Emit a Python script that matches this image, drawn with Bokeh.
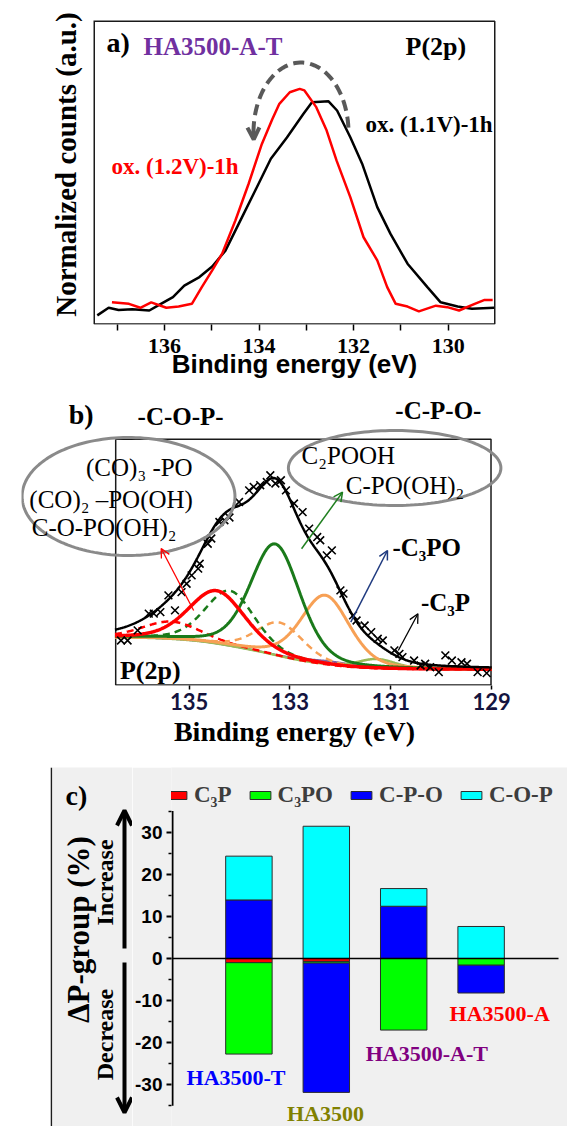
import numpy as np
from bokeh.plotting import figure
from bokeh.models import (Range1d, FixedTicker, Label, Arrow, OpenHead, PrintfTickFormatter,
                          Legend, LegendItem, ColumnDataSource, Spacer)
from bokeh.layouts import column, row
from bokeh.embed import file_html
from bokeh.resources import INLINE

SERIF = "Liberation Serif"
SANS = "Liberation Sans"

# ---------------- panel a data: P(2p) spectra of HA3500-A-T ----------------
a_ox11_ev = [137.42, 137.18, 136.97, 136.68, 136.32, 136.14, 135.82, 135.58, 135.26, 134.99,
             134.71, 134.43, 134.08, 133.75, 133.41, 133.06, 132.88, 132.53, 132.35, 132.07,
             131.82, 131.50, 131.22, 130.86, 130.44, 130.16, 129.80, 129.50, 129.03]
a_ox11_counts = [0.030, 0.055, 0.048, 0.050, 0.046, 0.062, 0.090, 0.128, 0.156, 0.191,
                 0.243, 0.331, 0.441, 0.545, 0.615, 0.693, 0.731, 0.734, 0.704, 0.616,
                 0.529, 0.386, 0.298, 0.200, 0.123, 0.073, 0.059, 0.052, 0.055]
a_ox12_ev = [137.11, 136.75, 136.51, 136.28, 135.96, 135.70, 135.42, 135.21, 134.99, 134.78,
             134.50, 134.22, 133.94, 133.72, 133.57, 133.35, 133.14, 133.04, 132.79, 132.57,
             132.36, 132.07, 131.79, 131.50, 131.29, 131.11, 130.86, 130.62, 130.26, 130.02,
             129.77, 129.44, 129.23, 129.06]
a_ox12_counts = [0.073, 0.068, 0.055, 0.073, 0.055, 0.059, 0.068, 0.123, 0.178, 0.233,
                 0.342, 0.463, 0.594, 0.675, 0.726, 0.764, 0.775, 0.770, 0.715, 0.638,
                 0.539, 0.419, 0.287, 0.211, 0.123, 0.068, 0.059, 0.043, 0.062, 0.057,
                 0.046, 0.068, 0.081, 0.081]
a_ticks = [136, 134, 132, 130]
a_minor_ticks = [137, 135, 133, 131]

# ---------------- panel b data: measured points and fitted components ----------------
b_meas_ev = [136.35, 136.22, 136.02, 135.80, 135.70, 135.57, 135.41, 135.28, 135.15, 135.05,
             134.95, 134.82, 134.79, 134.63, 134.56, 134.40, 134.30, 134.20, 134.01, 133.81,
             133.72, 133.59, 133.46, 133.39, 133.29, 133.18, 133.08, 132.92, 132.75, 132.62,
             132.46, 132.40, 132.27, 132.17, 132.00, 131.94, 131.75, 131.68, 131.52, 131.39,
             131.26, 131.16, 130.93, 130.83, 130.77, 130.54, 130.41, 130.32, 130.22, 130.05,
             129.92, 129.79, 129.60, 129.49, 129.28, 129.10]
b_meas_counts = [18.2, 18.2, 22.3, 29.1, 29.1, 29.7, 36.5, 30.4, 37.8, 41.2,
                 44.6, 47.3, 49.3, 57.4, 59.5, 66.2, 66.9, 68.0, 74.3, 79.0,
                 80.4, 81.1, 82.4, 85.1, 81.8, 83.1, 79.0, 73.7, 70.2, 63.5,
                 60.1, 58.8, 52.7, 54.7, 38.5, 37.2, 28.4, 26.3, 24.3, 21.6,
                 18.9, 18.2, 14.2, 12.8, 11.5, 10.1, 8.1, 8.8, 7.4, 5.4,
                 12.2, 10.1, 9.4, 8.8, 5.4, 5.0]
b_comp_names = ["minor", "C3P", "C3PO 2p1/2", "C-P-O 2p1/2", "C-O-P 2p1/2",
                "C3PO 2p3/2", "C-P-O 2p3/2", "C-O-P 2p3/2"]
b_comp_center = [132.2, 131.28, 133.20, 134.19, 135.35, 132.30, 133.29, 134.45]
b_comp_height = [1.5, 3.8, 13.6, 22.3, 7.0, 28.0, 45.0, 21.4]
b_comp_hwhm = [0.60, 0.45, 0.55, 0.58, 0.68, 0.57, 0.58, 0.66]
b_bg_high_be = 19.5
b_bg_low_be = 6.5
b_ticks = [135, 133, 131, 129]

# ---------------- panel c data: change of P-groups (%) ----------------
c_samples = ["HA3500-T", "HA3500", "HA3500-A-T", "HA3500-A"]
c_groups = ["C\u2083P", "C\u2083PO", "C-P-O", "C-O-P"]
c_C3P = [-1.0, -0.7, 0.0, 0.0]
c_C3PO = [-21.7, -0.4, -17.0, -1.6]
c_CPO = [13.9, -30.7, 12.4, -6.6]
c_COP = [10.4, 31.4, 4.2, 7.6]
c_ticks = [-30, -20, -10, 0, 10, 20, 30]
c_minor_ticks = [-35, -25, -15, -5, 5, 15, 25, 35]

# ---------------- styles ----------------
b_comp_colors = ["#8064a2", "#9bbb59", "#f7a055", "#1a7a1a", "#ff0000",
                 "#f7a055", "#1a7a1a", "#ff0000"]
b_comp_dash = ["solid", "solid", "7 5", "7 5", "7 5", "solid", "solid", "solid"]
b_comp_width = [2.0, 2.5, 2.5, 2.5, 2.5, 3.0, 3.0, 3.5]
c_colors = ["#ff0000", "#00ff00", "#0000ff", "#00ffff"]
c_label_colors = ["#0000ff", "#808000", "#800080", "#ff0000"]
GRAY_BG = "#f0f0f0"


def make_mapper(fl, fr, ft, fb, xr, yr):
    x0, x1 = xr
    y0, y1 = yr

    def fx(px):
        return x0 + (px - fl) / (fr - fl) * (x1 - x0)

    def fy(py):
        return y0 + (fb - py) / (fb - ft) * (y1 - y0)
    return fx, fy


def add_text(p, fx, fy, px, py, text, size, color="black", font=SERIF, style="bold",
             align="left", angle=0.0):
    p.add_layout(Label(x=fx(px), y=fy(py), text=text, text_font=font, text_font_style=style,
                       text_font_size=f"{size}px", text_color=color, text_align=align,
                       text_baseline="middle", angle=angle))


def add_arrow(p, fx, fy, p0, p1, color, width, size, head_width=None):
    head = OpenHead(size=size, line_color=color, line_width=head_width or width)
    p.add_layout(Arrow(end=head, x_start=fx(p0[0]), y_start=fy(p0[1]),
                       x_end=fx(p1[0]), y_end=fy(p1[1]), line_color=color, line_width=width))


def add_polyline(p, fx, fy, pts, color, width, dash="solid"):
    p.line([fx(a) for a, _ in pts], [fy(b) for _, b in pts], line_color=color,
           line_width=width, line_dash=dash)


def add_ellipse(p, fx, fy, cx, cy, rx, ry, color, width, n=160):
    t = np.linspace(0, 2 * np.pi, n)
    add_polyline(p, fx, fy, [(cx + rx * np.cos(a), cy - ry * np.sin(a)) for a in t], color, width)


def base_fig(width, height, xr, yr, ml, mr, mt, mb, **kw):
    p = figure(width=width, height=height, x_range=Range1d(*xr), y_range=Range1d(*yr),
               output_backend="svg", toolbar_location=None, title_location=None,
               min_border_left=ml, min_border_right=mr, min_border_top=mt, min_border_bottom=mb,
               **kw)
    p.xgrid.visible = False
    p.ygrid.visible = False
    p.outline_line_color = None
    return p


# ======================= panel a =======================
# canvas page y 0..388 ; frame: page x 21..567, y 0..324 ; visible box 93..495 x 20..324
XA, YA = (139.0225, 127.4775), (0.0, 324 / 304)
pa = base_fig(567, 388, XA, YA, 21, 0, 0, 64, y_axis_location=None)
fxa, fya = make_mapper(21, 567, 0, 324, XA, YA)
ax = pa.xaxis[0]
ax.ticker = FixedTicker(ticks=a_ticks, minor_ticks=a_minor_ticks)
ax.axis_line_color = None
ax.major_tick_in = 0
ax.major_tick_out = 6
ax.minor_tick_in = 0
ax.minor_tick_out = 6
ax.major_tick_line_width = 1.5
ax.minor_tick_line_width = 1.5
ax.major_label_text_font = SERIF
ax.major_label_text_font_style = "bold"
ax.major_label_text_font_size = "22px"
ax.major_label_text_color = "black"
ax.major_label_standoff = 8
ax.axis_label = "Binding energy (eV)"
ax.axis_label_text_font = SANS
ax.axis_label_text_font_style = "bold"
ax.axis_label_text_font_size = "26px"
ax.axis_label_text_color = "black"
ax.axis_label_standoff = -7

add_polyline(pa, fxa, fya, [(93, 20.75), (494.25, 20.75), (494.25, 323.4), (93.75, 323.4),
                            (93.75, 20.75)], "#1a1a1a", 1.5)
pa.line(a_ox11_ev, a_ox11_counts, line_color="black", line_width=2.5)
pa.line(a_ox12_ev, a_ox12_counts, line_color="#ff0000", line_width=2.5)

# dashed curved arrow (shift to higher binding energy)
t = np.linspace(0.07, np.pi + 0.02, 60)
add_polyline(pa, fxa, fya, [(300.5 + 47.5 * np.cos(a), 132 - 70 * np.sin(a)) for a in t],
             "#595959", 4, "11 6")
add_arrow(pa, fxa, fya, (300.5 + 47.5 * np.cos(np.pi - 0.02), 132 - 70 * np.sin(np.pi - 0.02)),
          (300.5 + 47.5 * np.cos(np.pi + 0.1), 132 - 70 * np.sin(np.pi + 0.1)),
          "#595959", 4, 12)

add_text(pa, fxa, fya, 106, 42, "a)", 28)
add_text(pa, fxa, fya, 143, 46, "HA3500-A-T", 25, color="#7030a0")
add_text(pa, fxa, fya, 405, 46, "P(2p)", 26)
add_text(pa, fxa, fya, 365, 124, "ox. (1.1V)-1h", 23)
add_text(pa, fxa, fya, 111, 165.5, "ox. (1.2V)-1h", 23, color="#ff0000")
add_text(pa, fxa, fya, 65, 164, "Normalized counts (a.u.)", 29, align="center", angle=np.pi / 2)

# ======================= panel b =======================
# canvas page y 388..757 ; frame: page x 12..567, y 388..685 ; visible box 107..490 x 438..685
XB, YB = (138.323, 127.498), (0.0, (685 - 388) / 2.47)
pb = base_fig(567, 369, XB, YB, 12, 0, 0, 72, y_axis_location=None)
fxb, fyb = make_mapper(12, 567, 388, 685, XB, YB)
bx = pb.xaxis[0]
bx.ticker = FixedTicker(ticks=b_ticks)
bx.axis_line_color = None
bx.major_tick_in = 0
bx.major_tick_out = 4
bx.minor_tick_out = 0
bx.major_tick_line_width = 1.5
bx.major_label_text_font = "Lato"
bx.major_label_text_font_style = "bold"
bx.major_label_text_font_size = "22px"
bx.major_label_text_color = "#141440"
bx.major_label_standoff = 3
bx.axis_label = "Binding energy (eV)"
bx.axis_label_text_font = SERIF
bx.axis_label_text_font_style = "bold"
bx.axis_label_text_font_size = "28px"
bx.axis_label_text_color = "black"
bx.axis_label_standoff = 3

add_polyline(pb, fxb, fyb, [(107.75, 438.75), (489.25, 438.75), (489.25, 684.4), (107.75, 684.4),
                            (107.75, 438.75)], "#1a1a1a", 1.5)

grid = np.linspace(136.47, 129.0, 600)


def pseudo_voigt(x, c, h, w, eta=0.3):
    d = (x - c) / w
    return h * ((1 - eta) * np.exp(-np.log(2) * d ** 2) + eta / (1 + d ** 2))


comps = [pseudo_voigt(grid, c, h, w) for c, h, w in zip(b_comp_center, b_comp_height, b_comp_hwhm)]
total = np.sum(comps, axis=0)
area_low_side = np.cumsum(total[::-1])[::-1]
shirley = b_bg_low_be + (b_bg_high_be - b_bg_low_be) * area_low_side / area_low_side[0]

for comp, col, dash, lw in zip(comps, b_comp_colors, b_comp_dash, b_comp_width):
    pb.line(grid, shirley + comp, line_color=col, line_width=lw, line_dash=dash)
pb.line(grid, shirley + total, line_color="black", line_width=2.5)
pb.scatter(b_meas_ev, b_meas_counts, marker="x", size=11, line_color="black", line_width=1.6)

add_ellipse(pb, fxb, fyb, 120.8, 496, 108.2, 59, "#8a8a8a", 3)
add_ellipse(pb, fxb, fyb, 391.3, 467.5, 108, 37.5, "#8a8a8a", 3)
add_arrow(pb, fxb, fyb, (187, 610), (154, 548), "#ff0000", 1.3, 9)
add_arrow(pb, fxb, fyb, (296.7, 548.3), (338.3, 491.7), "#1f7f1f", 1.5, 9)
add_arrow(pb, fxb, fyb, (346.7, 621.7), (384, 550), "#1f3a7f", 1.5, 9)
add_arrow(pb, fxb, fyb, (395, 650), (415, 613.3), "black", 1.3, 9)

add_text(pb, fxb, fyb, 60, 414, "b)", 28)
add_text(pb, fxb, fyb, 130, 416, "-C-O-P-", 25)
add_text(pb, fxb, fyb, 392, 410, "-C-P-O-", 25)
add_text(pb, fxb, fyb, 77.6, 467, "(CO)\u2083 -PO", 25, style="normal")
add_text(pb, fxb, fyb, 20, 499, "(CO)\u2082 \u2013PO(OH)", 25, style="normal")
add_text(pb, fxb, fyb, 22.4, 527, "C-O-PO(OH)\u2082", 25, style="normal")
add_text(pb, fxb, fyb, 296.7, 455, "C\u2082POOH", 25, style="normal")
add_text(pb, fxb, fyb, 341.7, 485, "C-PO(OH)\u2082", 25, style="normal")
add_text(pb, fxb, fyb, 389, 547, "-C\u2083PO", 25)
add_text(pb, fxb, fyb, 418, 602, "-C\u2083P", 25)
add_text(pb, fxb, fyb, 112, 670, "P(2p)", 26)

# ======================= panel c =======================
# top strip (white) carrying the top edge of the gray box: page x 50..567, y 757..767
XS, YS = (50, 567), (767, 757)
pcs = base_fig(517, 10, XS, YS, 0, 0, 0, 0, x_axis_location=None, y_axis_location=None)
pcs.line([50, 567], [766.3, 766.3], line_color="#1e1e1e", line_width=1.6)

# left strip with the axis title: page x 50..132, y 767..1126 (coordinates are page pixels)
XL, YL = (50, 132), (1126, 767)
pcl = base_fig(82, 359, XL, YL, 0, 0, 0, 0, x_axis_location=None, y_axis_location=None)
pcl.background_fill_color = GRAY_BG
pcl.border_fill_color = GRAY_BG
pcl.line([50.8, 50.8], [767, 1126], line_color="#1e1e1e", line_width=1.6)
ident = (lambda v: v)
add_text(pcl, ident, ident, 65, 795, "c)", 28)
add_text(pcl, ident, ident, 77.6, 929, "\u0394P-group (%)", 31, align="center", angle=np.pi / 2)
add_text(pcl, ident, ident, 104.7, 882, "Increase", 24, align="center", angle=np.pi / 2)
add_text(pcl, ident, ident, 104.7, 1034, "Decrease", 24, align="center", angle=np.pi / 2)
add_arrow(pcl, ident, ident, (124, 948), (124, 810), "black", 4, 15)
add_arrow(pcl, ident, ident, (124, 962), (124, 1112), "black", 4, 15)

# main bar chart: frame page x 170..567, y 767..1126
XC, YC = (0.0, 5.116), (-39.9, 45.35)
pc = base_fig(435, 359, XC, YC, 38, 0, 0, 0, x_axis_location=None)
pc.background_fill_color = GRAY_BG
pc.border_fill_color = GRAY_BG
fxc, fyc = make_mapper(170, 567, 767, 1126, XC, YC)
cy = pc.yaxis[0]
cy.ticker = FixedTicker(ticks=c_ticks, minor_ticks=c_minor_ticks)
cy.formatter = PrintfTickFormatter(format="%d")
cy.axis_line_color = None
cy.major_tick_in = 0
cy.major_tick_out = 5
cy.minor_tick_in = 0
cy.minor_tick_out = 3
cy.major_tick_line_width = 2
cy.minor_tick_line_width = 1.5
cy.major_label_text_font = SANS
cy.major_label_text_font_style = "bold"
cy.major_label_text_font_size = "19px"
cy.major_label_text_color = "black"
cy.major_label_standoff = 4

xs = list(range(1, len(c_samples) + 1))
pos_base = [0.0] * len(c_samples)
neg_base = [0.0] * len(c_samples)
renderers = []
for vals, col in zip([c_C3P, c_C3PO, c_CPO, c_COP], c_colors):
    tops, bottoms = [], []
    for i, v in enumerate(vals):
        if v >= 0:
            bottoms.append(pos_base[i])
            tops.append(pos_base[i] + v)
            pos_base[i] += v
        else:
            tops.append(neg_base[i])
            bottoms.append(neg_base[i] + v)
            neg_base[i] += v
    src = ColumnDataSource(dict(x=xs, top=tops, bottom=bottoms))
    r = pc.vbar(x="x", top="top", bottom="bottom", width=0.6, source=src,
                fill_color=col, line_color="#2b2b2b", line_width=1)
    renderers.append(r)

# zero line and y-axis line
pc.line([0, len(c_samples) + 1], [0, 0], line_color="black", line_width=1.5)
pc.line([fxc(171), fxc(171)], [min(c_minor_ticks), max(c_minor_ticks)], line_color="black",
        line_width=2)

legend = Legend(items=[LegendItem(label=g, renderers=[r]) for g, r in zip(c_groups, renderers)],
                orientation="horizontal", location=(-8, 318))
legend.glyph_width = 26
legend.glyph_height = 10
legend.label_standoff = 5
legend.spacing = 15
legend.padding = 0
legend.margin = 0
legend.border_line_color = None
legend.background_fill_alpha = 0
legend.label_text_font = SERIF
legend.label_text_font_style = "bold"
legend.label_text_font_size = "23px"
legend.label_text_color = "#3d3d3d"
pc.add_layout(legend)

label_pos = [(234.7, 1076.7), (324.4, 1112.5), (426, 1053.3), (499, 1013.3)]
for name, col, (lx, ly) in zip(c_samples, c_label_colors, label_pos):
    add_text(pc, fxc, fyc, lx, ly, name, 22, color=col, align="center")

layout = column(pa, pb,
                row(Spacer(width=50, height=10), pcs),
                row(Spacer(width=50, height=359), pcl, pc))

open("out.html", "w").write(file_html(layout, INLINE))
